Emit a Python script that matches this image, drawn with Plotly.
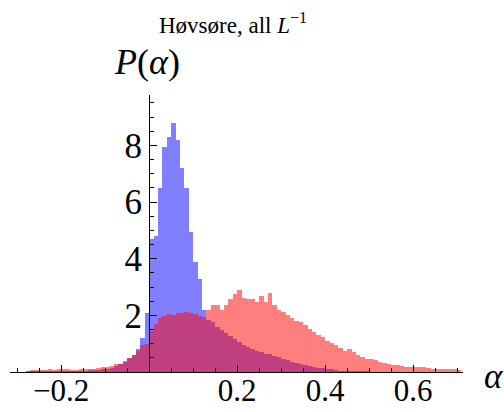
import plotly.graph_objects as go

# Bin layout (width 0.01); values are bin heights
bin_width = 0.01

blue_start = -0.28
blue_heights = [
    0.02, 0.02, 0.02, 0.03, 0.03, 0.03, 0.03, 0.03, 0.04, 0.04,   # -0.28 .. -0.19
    0.04, 0.05, 0.05, 0.05, 0.06, 0.07, 0.08, 0.10, 0.12, 0.15,   # -0.18 .. -0.09
    0.20, 0.27, 0.35, 0.50, 0.60, 0.80, 1.20, 2.10,               # -0.08 .. -0.01
    4.70, 4.80, 6.50, 7.95, 8.30, 8.80, 8.20, 7.20, 6.50, 4.95,   # 0.00 .. 0.09
    3.90, 3.30, 2.20, 1.85, 1.75, 1.60, 1.47, 1.38, 1.26, 1.15,   # 0.10 .. 0.19
    1.05, 0.95, 0.88, 0.80, 0.74, 0.70, 0.65, 0.62, 0.55, 0.52,   # 0.20 .. 0.29
    0.47, 0.42, 0.36, 0.32, 0.28, 0.24, 0.20, 0.17, 0.15, 0.14,   # 0.30 .. 0.39
    0.12, 0.10, 0.06, 0.05, 0.04, 0.03, 0.02, 0.02, 0.02, 0.02,   # 0.40 .. 0.49
]

red_start = -0.28
red_heights = [
    0.04, 0.06, 0.06, 0.08, 0.07, 0.10, 0.08, 0.10, 0.12, 0.10,   # -0.28 .. -0.19
    0.08, 0.07, 0.09, 0.10, 0.12, 0.12, 0.14, 0.16, 0.18, 0.22,   # -0.18 .. -0.09
    0.30, 0.30, 0.40, 0.50, 0.60, 0.75, 0.95, 1.00,               # -0.08 .. -0.01
    1.45, 1.70, 1.92, 1.97, 2.05, 2.00, 2.08, 2.10, 2.12, 2.10,   # 0.00 .. 0.09
    2.06, 1.97, 1.95, 2.20, 2.36, 2.36, 2.20, 2.38, 2.59, 2.77,   # 0.10 .. 0.19
    2.89, 2.60, 2.59, 2.59, 2.47, 2.67, 2.47, 2.79, 2.36, 2.20,   # 0.20 .. 0.29
    2.12, 2.00, 1.90, 1.80, 1.77, 1.65, 1.51, 1.40, 1.30, 1.22,   # 0.30 .. 0.39
    1.10, 1.02, 0.94, 0.85, 0.75, 0.80, 0.70, 0.60, 0.53, 0.47,   # 0.40 .. 0.49
    0.45, 0.42, 0.35, 0.32, 0.30, 0.25, 0.24, 0.20, 0.19, 0.18,   # 0.50 .. 0.59
    0.18, 0.17, 0.16, 0.14, 0.12, 0.12, 0.12, 0.11, 0.10, 0.10,   # 0.60 .. 0.69
    0.08,                                                         # 0.70
]

x_major_ticks = [-0.2, 0.2, 0.4, 0.6]
x_tick_labels = ["\u22120.2", "0.2", "0.4", "0.6"]
y_major_ticks = [2, 4, 6, 8]
y_tick_labels = ["2", "4", "6", "8"]

title_text = "Høvsøre, all <i>L</i><sup>\u22121</sup>"
y_label = "<i>P</i>(<i>α</i>)"
x_label = "<i>α</i>"


def centers(start, n):
    return [round(start + bin_width * (i + 0.5), 6) for i in range(n)]


fig = go.Figure()
fig.add_trace(go.Bar(
    x=centers(blue_start, len(blue_heights)), y=blue_heights, width=bin_width,
    marker=dict(color="rgba(0,0,255,0.5)", line=dict(width=0)),
    showlegend=False,
))
fig.add_trace(go.Bar(
    x=centers(red_start, len(red_heights)), y=red_heights, width=bin_width,
    marker=dict(color="rgba(255,0,0,0.5)", line=dict(width=0)),
    showlegend=False,
))

W, H = 504, 412
ml, mr, mt, mb = 10, 41, 95, 40
xr = [-0.3165, 0.7135]
pw = W - ml - mr
ph = H - mt - mb
y_axis_pos = (0 - xr[0]) / (xr[1] - xr[0])


def px_to_paper(px, py):
    return (px - ml) / pw, (H - mb - py) / ph


minor_x = [round(-0.3 + 0.05 * k, 3) for k in range(21)]
minor_x = [v for v in minor_x if xr[0] < v < xr[1] and all(abs(v - m) > 1e-6 for m in x_major_ticks) and abs(v) > 1e-6]
minor_y = [0.5 * k for k in range(1, 20) if (0.5 * k) % 2 != 0]

font_family = "Liberation Serif, Times New Roman, serif"

tx, ty = px_to_paper(233, 24)
px_, py_ = px_to_paper(147, 62)
ax_, ay_ = px_to_paper(494, 376)

fig.update_layout(
    width=W, height=H,
    margin=dict(l=ml, r=mr, t=mt, b=mb, pad=0, autoexpand=False),
    paper_bgcolor="white", plot_bgcolor="white",
    barmode="overlay", bargap=0,
    font=dict(family=font_family, color="black"),
    xaxis=dict(
        range=xr, showgrid=False, zeroline=False, automargin=False,
        showline=True, linecolor="black", linewidth=1.3,
        tickmode="array", tickvals=x_major_ticks, ticktext=x_tick_labels,
        ticks="inside", ticklen=7, tickwidth=1.3, tickcolor="black",
        tickfont=dict(size=31, family=font_family),
        ticklabelstandoff=-9,
        minor=dict(tickmode="array", tickvals=minor_x, ticks="inside",
                   ticklen=4, tickwidth=1.3, tickcolor="black", showgrid=False),
    ),
    yaxis=dict(
        range=[0, 9.78], showgrid=False, zeroline=False, automargin=False,
        anchor="free", position=y_axis_pos,
        showline=True, linecolor="black", linewidth=1.3,
        tickmode="array", tickvals=y_major_ticks, ticktext=y_tick_labels,
        ticks="inside", ticklen=7, tickwidth=1.3, tickcolor="black",
        tickfont=dict(size=35, family=font_family),
        minor=dict(tickmode="array", tickvals=minor_y, ticks="inside",
                   ticklen=4, tickwidth=1.3, tickcolor="black", showgrid=False),
    ),
    annotations=[
        dict(text=title_text, x=tx, y=ty, xref="paper", yref="paper",
             showarrow=False, font=dict(size=23, family=font_family),
             xanchor="center", yanchor="middle"),
        dict(text=y_label, x=px_, y=py_, xref="paper", yref="paper",
             showarrow=False, font=dict(size=36, family=font_family),
             xanchor="center", yanchor="middle"),
        dict(text=x_label, x=ax_, y=ay_, xref="paper", yref="paper",
             showarrow=False, font=dict(size=35, family=font_family),
             xanchor="center", yanchor="middle"),
    ],
)

fig.write_html("out.html")
